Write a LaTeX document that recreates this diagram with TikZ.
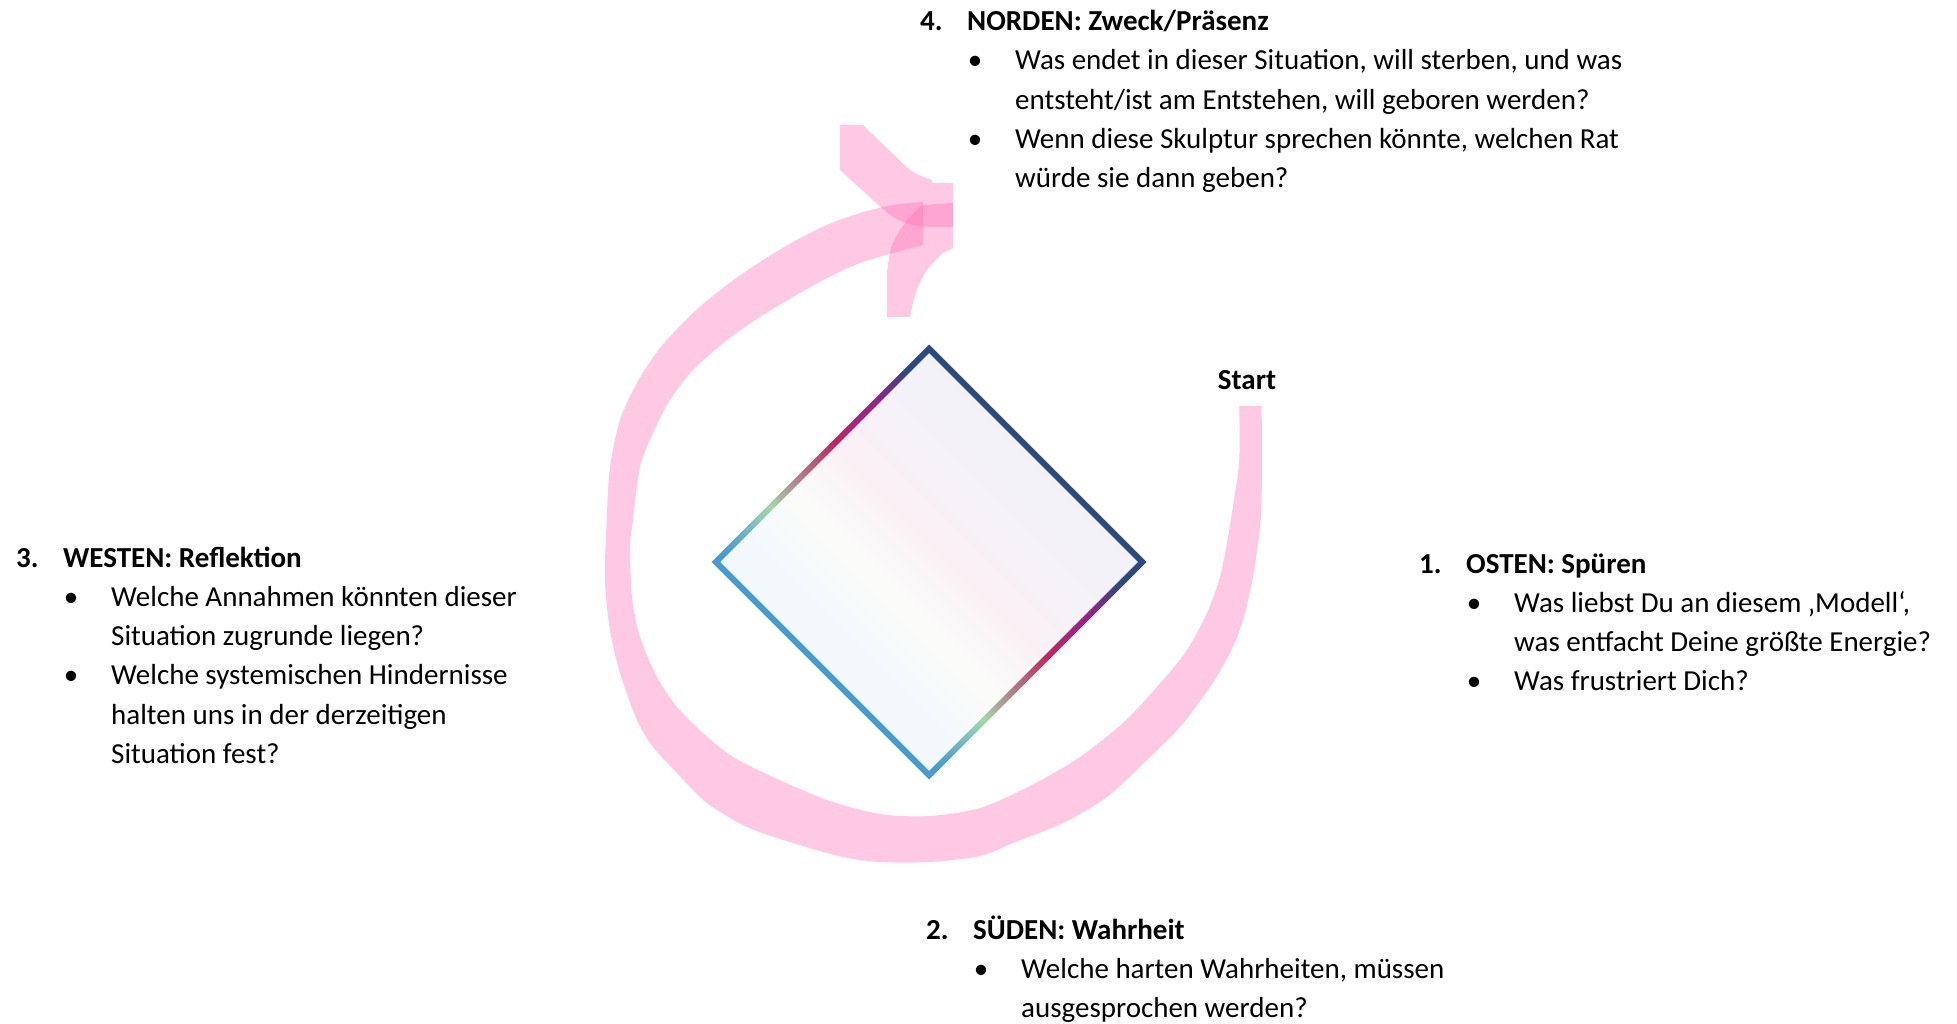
\documentclass[tikz,border=0pt]{standalone}
\usepackage{fontspec}
\setmainfont{Carlito}
\usepackage{tikz}
\usetikzlibrary{positioning}

\definecolor{bandpink}{RGB}{255,105,180}
\definecolor{rimnavy}{RGB}{44,74,128}
\definecolor{rimpurple}{RGB}{146,35,140}
\definecolor{rimred}{RGB}{192,38,96}
\definecolor{rimmauve}{RGB}{175,130,140}
\definecolor{rimgreen}{RGB}{165,215,170}
\definecolor{rimteal}{RGB}{110,180,200}
\definecolor{rimblue}{RGB}{70,155,210}
\definecolor{palenavy}{RGB}{241,242,248}
\definecolor{palelav}{RGB}{245,242,248}
\definecolor{palepink}{RGB}{249,241,245}
\definecolor{palewhite}{RGB}{251,252,250}
\definecolor{paleblue}{RGB}{242,248,252}

\pgfdeclarehorizontalshading{rimshade}{100bp}{color(0bp)=(rimblue); color(34bp)=(rimblue); color(37.5bp)=(rimteal); color(41.5bp)=(rimgreen); color(46bp)=(rimmauve); color(52bp)=(rimred); color(59bp)=(rimpurple); color(64bp)=(rimnavy); color(100bp)=(rimnavy)}
\pgfdeclarehorizontalshading{paleshade}{100bp}{color(0bp)=(paleblue); color(36bp)=(paleblue); color(44bp)=(palewhite); color(52bp)=(palepink); color(60bp)=(palelav); color(68bp)=(palenavy); color(100bp)=(palenavy)}

\newcommand{\qhead}[2]{\makebox[47pt][l]{\bfseries #1}\textbf{#2}}
\newcommand{\qitem}{\hspace*{55pt}\makebox[0pt]{\textbullet}\hspace*{40pt}}
\newcommand{\qcont}{\hspace*{95pt}}

\begin{document}
\begin{tikzpicture}[
        x=1pt, y=-1pt,
        band/.style={fill=bandpink, fill opacity=0.36},
        block/.style={
            anchor=base west,
            inner sep=0pt,
            align=left,
            font=\fontsize{29}{39.3}\selectfont
        },
        startlabel/.style={
            anchor=base,
            inner sep=0pt,
            font=\fontsize{29}{39.3}\selectfont\bfseries
        }
    ]
        \useasboundingbox[fill=white] (0,0) rectangle (1957,1024);

        % circling band from Start round to the north
        \fill[band] plot[smooth] coordinates {(1261.7,406) (1261.7,493) (1260,527) (1253,577) (1243,620) (1230,653) (1210,687) (1180,727) (1147,760) (1107,797) (1063,823) (1013,843) (980,856) (930,862) (880,862) (843,857) (793,843) (747,827) (707,803) (677,773) (653,747) (637,720) (620,673) (610,630) (605,580) (606.7,520) (610,467) (620,420) (637,383) (660,348) (693,313) (727,285) (760,262) (793,242) (827,225) (860,213) (893,205) (923,202)}
            -- plot[smooth] coordinates {(923,245) (893,253) (860,263) (827,278) (793,297) (760,317) (727,340) (693,370) (670,400) (653,433) (640,467) (633,520) (630,547) (632,597) (640,637) (657,677) (677,707) (703,733) (733,757) (773,777) (827,800) (880,814) (930,816) (980,808) (1030,786) (1080,757) (1125,721) (1163,680) (1187,650) (1207,613) (1220,577) (1228,537) (1235,493) (1239.3,460) (1239.3,406)}
            -- cycle;
        \fill[band] (840,125) -- plot[smooth] coordinates {(863,125) (893,154) (913,172) (932,180)}
            -- (932,183) -- (953,183) -- (953,227)
            -- plot[smooth] coordinates {(932,227) (913,225) (893,217) (873,200)} -- (840,170) -- cycle;
        \fill[band] (887,317) -- plot[smooth] coordinates {(887,273) (891,248) (900,230) (910,217) (922,205)}
            -- (953,203) -- (953,248)
            -- plot[smooth] coordinates {(943,253) (927,270) (916,292) (910,317)} -- cycle;

        % diamond
        \shade[shading=paleshade, shading angle=45] (929,353) -- (1138,562) -- (929,771) -- (720,562) -- cycle;
        \shade[even odd rule, shading=rimshade, shading angle=45]
            (929,344.5) -- (1146.5,562) -- (929,779.5) -- (711.5,562) -- cycle
            (929,353) -- (1138,562) -- (929,771) -- (720,562) -- cycle;

        \node[startlabel] (start) at (1247,389) {Start};

        % blocks are placed at the baseline of their last line
        \node[block] (osten) at (1419,690.9) {\qhead{1.}{OSTEN: Spüren}\\
            \qitem Was liebst Du an diesem ‚Modell‘,\\
            \qcont was entfacht Deine größte Energie?\\
            \qitem Was frustriert Dich?};
        \node[block] (sueden) at (926,1017.6) {\qhead{2.}{SÜDEN: Wahrheit}\\
            \qitem Welche harten Wahrheiten, müssen\\
            \qcont ausgesprochen werden?};
        \node[block] (westen) at (16,763.5) {\qhead{3.}{WESTEN: Reflektion}\\
            \qitem Welche Annahmen könnten dieser\\
            \qcont Situation zugrunde liegen?\\
            \qitem Welche systemischen Hindernisse\\
            \qcont halten uns in der derzeitigen\\
            \qcont Situation fest?};
        \node[block] (norden) at (920,187.7) {\qhead{4.}{NORDEN: Zweck/Präsenz}\\
            \qitem Was endet in dieser Situation, will sterben, und was\\
            \qcont entsteht/ist am Entstehen, will geboren werden?\\
            \qitem Wenn diese Skulptur sprechen könnte, welchen Rat\\
            \qcont würde sie dann geben?};
    \end{tikzpicture}
\end{document}
